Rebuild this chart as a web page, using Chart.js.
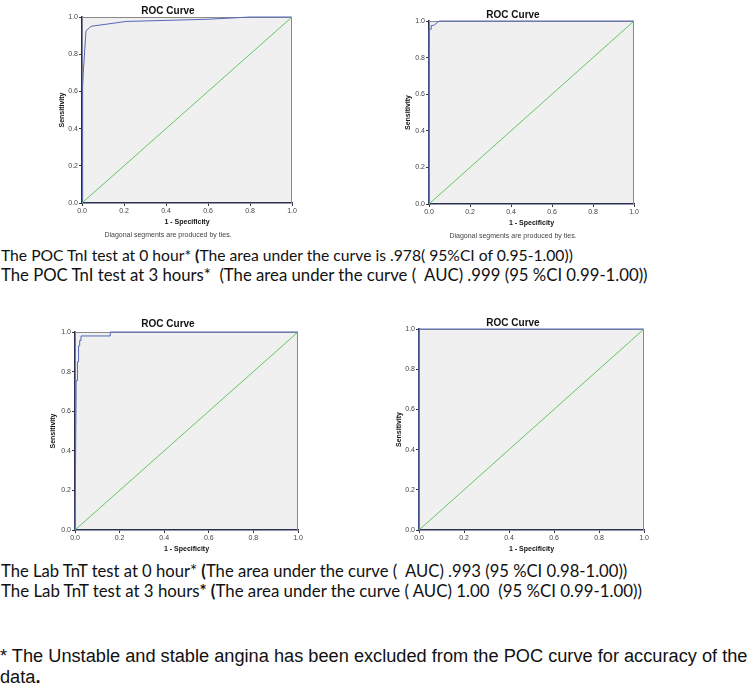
<!DOCTYPE html>
<html><head><meta charset="utf-8">
<script src="https://cdn.jsdelivr.net/npm/chart.js@4/dist/chart.umd.min.js"></script>
<style>
html,body{margin:0;padding:0;background:#fff;width:753px;height:693px;overflow:hidden;position:relative}
canvas{position:absolute}
.txt{position:absolute;left:1px;white-space:nowrap;font-family:Lato,'Open Sans',sans-serif;color:#111;line-height:1;font-size:16px}
.arial{font-family:'Liberation Sans',Arial,sans-serif;left:0}
</style></head><body>
<canvas id="c1"></canvas>
<canvas id="c2"></canvas>
<canvas id="c3"></canvas>
<canvas id="c4"></canvas>
<div class="txt" style="top:248px" data-w="572">The POC TnI test at 0 hour* <b>(</b>The area under the curve is .978( 95%CI of 0.95-1.00))</div>
<div class="txt" style="top:267px" data-w="647">The POC TnI test at 3 hours*&nbsp; (The area under the curve (&nbsp; AUC) .999 (95 %CI 0.99-1.00))</div>
<div class="txt" style="top:563px" data-w="627">The Lab TnT test at 0 hour* <b>(</b>The area under the curve (&nbsp; AUC) .993 (95 %CI 0.98-1.00))</div>
<div class="txt" style="top:583px" data-w="641">The Lab TnT test at 3 hours<b>* (</b>The area under the curve ( AUC) 1.00&nbsp; (95 %CI 0.99-1.00))</div>
<div class="txt arial" id="fn" style="top:647px" data-w="748">* The Unstable and stable angina has been excluded from the POC curve for accuracy of the</div>
<div class="txt arial" id="fn2" style="top:668px">data<b>.</b></div>
<script>
// ---- data ----
const tickLabels = ['0.0','0.2','0.4','0.6','0.8','1.0'];
const chanceX = [0, 1];
const chanceY = [0, 1];
// POC TnI at 0 hour
const pocTnI0X = [0, 0.003, 0.006, 0.019, 0.043, 0.21, 0.6, 0.8, 1];
const pocTnI0Y = [0, 0.62, 0.70, 0.925, 0.95, 0.976, 0.988, 1.0, 1];
// POC TnI at 3 hours
const pocTnI3X = [0, 0, 0.011, 0.011, 0.023, 0.05, 1];
const pocTnI3Y = [0, 0.955, 0.955, 0.976, 0.976, 1.0, 1];
// Lab TnT at 0 hour
const labTnT0X = [0, 0.005, 0.005, 0.011, 0.011, 0.016, 0.016, 0.021, 0.021, 0.027, 0.027, 0.158, 0.158, 1];
const labTnT0Y = [0, 0.70, 0.755, 0.755, 0.85, 0.85, 0.93, 0.93, 0.957, 0.957, 0.98, 0.98, 1.0, 1];
// Lab TnT at 3 hours
const labTnT3X = [0, 0, 1];
const labTnT3Y = [0, 1, 1];

// ---- layout ----
Chart.defaults.font.family = "'Liberation Sans', Arial, sans-serif";
Chart.defaults.font.lineHeight = 1.2;

const panels = [
  {id:'c1', left:44, top:0, w:256, h:245, yW:38, titleTop:5, titleBottom:0, yTitlePad:13.8, sub:true, xs:pocTnI0X, ys:pocTnI0Y},
  {id:'c2', left:392, top:0, w:250, h:246, yW:37, titleTop:9, titleBottom:0, yTitlePad:11.8, sub:true, xs:pocTnI3X, ys:pocTnI3Y},
  {id:'c3', left:38, top:300, w:268, h:253, yW:37, titleTop:18, titleBottom:2, yTitlePad:10.8, sub:false, xs:labTnT0X, ys:labTnT0Y},
  {id:'c4', left:382, top:300, w:270, h:253, yW:37, titleTop:17, titleBottom:0, yTitlePad:12.8, sub:false, xs:labTnT3X, ys:labTnT3Y}
];

const framePlugin = {
  id:'frame',
  beforeDraw(chart){
    const {ctx, chartArea:a} = chart;
    ctx.save();
    ctx.fillStyle = '#f0f0f0';
    ctx.fillRect(a.left, a.top, a.right - a.left, a.bottom - a.top);
    ctx.restore();
  },
  beforeDatasetsDraw(chart){
    const {ctx, chartArea:a} = chart;
    ctx.save();
    ctx.strokeStyle = '#8a8a8a';
    ctx.lineWidth = 1;
    ctx.beginPath();
    ctx.moveTo(a.left, a.top + 0.5); ctx.lineTo(a.right, a.top + 0.5);
    ctx.moveTo(a.right - 0.5, a.top); ctx.lineTo(a.right - 0.5, a.bottom);
    ctx.stroke();
    ctx.restore();
  }
};

function pts(xs, ys){ return xs.map((x,i)=>({x:x, y:ys[i]})); }

panels.forEach(p=>{
  const cv = document.getElementById(p.id);
  cv.width = p.w; cv.height = p.h;
  cv.style.left = p.left + 'px'; cv.style.top = p.top + 'px';
  cv.style.width = p.w + 'px'; cv.style.height = p.h + 'px';
  const axisCommon = {
    type:'linear', min:0, max:1,
    grid:{display:true, drawOnChartArea:false, drawTicks:true, tickLength:3, color:'#333'},
    border:{display:true, color:'#2c3052', width:1.6},
  };
  new Chart(cv, {
    type:'scatter',
    data:{datasets:[
      {data:pts(chanceX, chanceY), showLine:true, borderColor:'#62c862', borderWidth:1, pointRadius:0, clip:false},
      {data:pts(p.xs, p.ys), showLine:true, borderColor:'#5468b8', borderWidth:1, pointRadius:0, clip:false, tension:0}
    ]},
    options:{
      responsive:false, animation:false, devicePixelRatio:1,
      layout:{padding:{left:0, right:8, top:0, bottom:0}},
      plugins:{
        legend:{display:false}, tooltip:{enabled:false},
        title:{display:true, text:'ROC Curve', color:'#111', font:{size:10, weight:'bold'}, padding:{top:p.titleTop, bottom:p.titleBottom}},
        subtitle:{display:p.sub, position:'bottom', text:'Diagonal segments are produced by ties.', color:'#444', font:{size:7}, padding:{top:4.8, bottom:5.8}}
      },
      scales:{
        x:Object.assign({}, axisCommon, {
          position:'bottom',
          ticks:{stepSize:0.2, color:'#444', font:{size:7}, padding:1, maxRotation:0, autoSkip:false, callback:(v,i)=>tickLabels[i]},
          title:{display:true, text:'1 - Specificity', color:'#111', font:{size:7, weight:'bold'}, padding:{top:0, bottom:0}},
          afterFit:(s)=>{ s.height = 23; s.paddingLeft = 0; s.paddingRight = 0; }
        }),
        y:Object.assign({}, axisCommon, {
          position:'left',
          ticks:{stepSize:0.2, color:'#444', font:{size:7}, padding:1, autoSkip:false, callback:(v,i)=>tickLabels[i]},
          title:{display:true, text:'Sensitivity', color:'#111', font:{size:7, weight:'bold'}, padding:{top:p.yTitlePad, bottom:0}},
          afterFit:(s)=>{ s.width = p.yW; s.paddingTop = 0; s.paddingBottom = 0; }
        })
      }
    },
    plugins:[framePlugin]
  });
});

// fit text lines to their measured widths in the picture
document.querySelectorAll('[data-w]').forEach(el=>{
  const target = +el.dataset.w;
  const fs = parseFloat(getComputedStyle(el).fontSize);
  const cur = el.getBoundingClientRect().width;
  el.style.fontSize = (fs * target / cur).toFixed(2) + 'px';
});
document.getElementById('fn2').style.fontSize = document.getElementById('fn').style.fontSize;
</script>
</body></html>
